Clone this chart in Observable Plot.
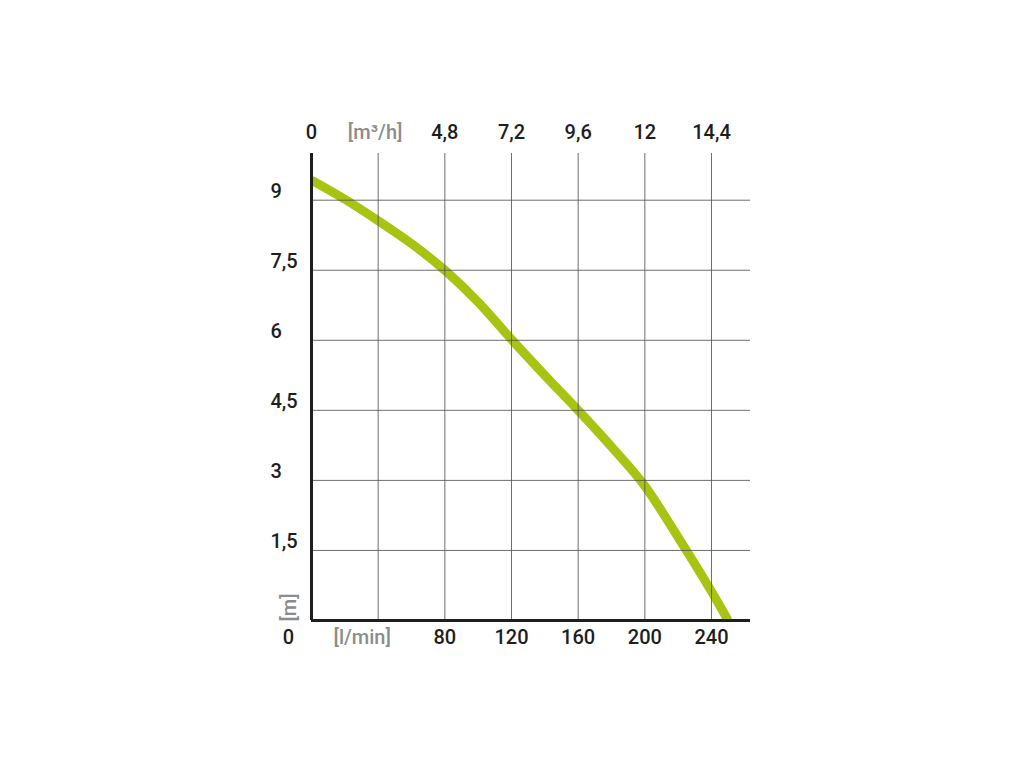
<!DOCTYPE html>
<html>
<head>
<meta charset="utf-8">
<script src="https://cdn.jsdelivr.net/npm/d3@7"></script>
<script src="https://cdn.jsdelivr.net/npm/@observablehq/plot@0.6"></script>
<style>
  html, body { margin: 0; padding: 0; background: #fff; }
</style>
</head>
<body>
<div id="chart"></div>
<script>
// Pump curve: flow [l/min] vs head [m]
const flowLpm = [0, 20, 40, 60, 80, 100, 120, 140, 160, 180, 200, 220, 240, 250];
const headM   = [9.43, 9.02, 8.56, 8.07, 7.5, 6.82, 6.02, 5.25, 4.5, 3.72, 2.88, 1.78, 0.62, 0];

// Tick positions (l/min) and labels
const xTicks = [0, 40, 80, 120, 160, 200, 240];
const topLabels = ["0", "[m³/h]", "4,8", "7,2", "9,6", "12", "14,4"];
const bottomTicks = [40, 80, 120, 160, 200, 240];
const bottomLabels = ["[l/min]", "80", "120", "160", "200", "240"];
const yTicks = [1.5, 3, 4.5, 6, 7.5, 9];
const yLabels = ["1,5", "3", "4,5", "6", "7,5", "9"];
const gridX = [40, 80, 120, 160, 200, 240];

const DARK = "#1e1e1e";
const GRAY = "#8c8c8c";
const isUnit = s => s.startsWith("[");

const curve = flowLpm.map((x, i) => ({x, y: headM[i]}));
const topData = xTicks.map((x, i) => ({x, label: topLabels[i]}));
const bottomData = bottomTicks.map((x, i) => ({x, label: bottomLabels[i]}));
const leftData = yTicks.map((y, i) => ({y, label: yLabels[i]}));

const textStyle = {fontSize: 20, fontWeight: 500};

const chart = Plot.plot({
  width: 1024,
  height: 768,
  marginLeft: 311,
  marginRight: 274,
  marginTop: 153,
  marginBottom: 148,
  x: {domain: [0, 263.4], axis: null},
  y: {domain: [0, 10], axis: null},
  color: {type: "identity"},
  style: {fontFamily: "Roboto, 'DejaVu Sans', sans-serif", background: "#fff"},
  marks: [
    Plot.line(curve, {x: "x", y: "y", stroke: "#a9c313", strokeWidth: 9, curve: "monotone-x", clip: true, strokeLinecap: "butt"}),
    Plot.ruleX(gridX, {y1: 0, y2: 10, stroke: "#555", strokeWidth: 1, strokeOpacity: 0.85}),
    Plot.ruleY(yTicks, {x1: 0, x2: 263.4, stroke: "#555", strokeWidth: 1, strokeOpacity: 0.85}),
    Plot.ruleX([0], {y1: 0, y2: 10, stroke: DARK, strokeWidth: 3}),
    Plot.ruleY([0], {x1: 0, x2: 263.4, stroke: DARK, strokeWidth: 3}),
    // top axis labels (m³/h), grey unit label in place of the first grid tick
    Plot.text(topData.filter(d => !isUnit(d.label)), {x: "x", y: () => 10, text: "label", dy: -20.5, fill: DARK, ...textStyle}),
    Plot.text(topData.filter(d => isUnit(d.label)), {x: "x", y: () => 10, text: "label", dy: -20.5, dx: -3, fill: GRAY, ...textStyle}),
    // bottom axis labels (l/min)
    Plot.text(bottomData.filter(d => !isUnit(d.label)), {x: "x", y: () => 0, text: "label", dy: 17.5, fill: DARK, ...textStyle}),
    Plot.text(bottomData.filter(d => isUnit(d.label)), {x: "x", y: () => 0, text: "label", dy: 17.5, dx: -16, fill: GRAY, ...textStyle}),
    // left axis labels (m)
    Plot.text(leftData, {x: () => 0, y: "y", text: "label", dx: -41, dy: -9, textAnchor: "start", fill: DARK, ...textStyle}),
    Plot.text(["0"], {x: () => 0, y: () => 0, text: d => d, dx: -23, dy: 17.5, fill: DARK, ...textStyle}),
    Plot.text(["[m]"], {x: () => 0, y: () => 0.28, text: d => d, dx: -22, rotate: -90, fill: GRAY, ...textStyle})
  ]
});

document.getElementById("chart").append(chart);
</script>
</body>
</html>
